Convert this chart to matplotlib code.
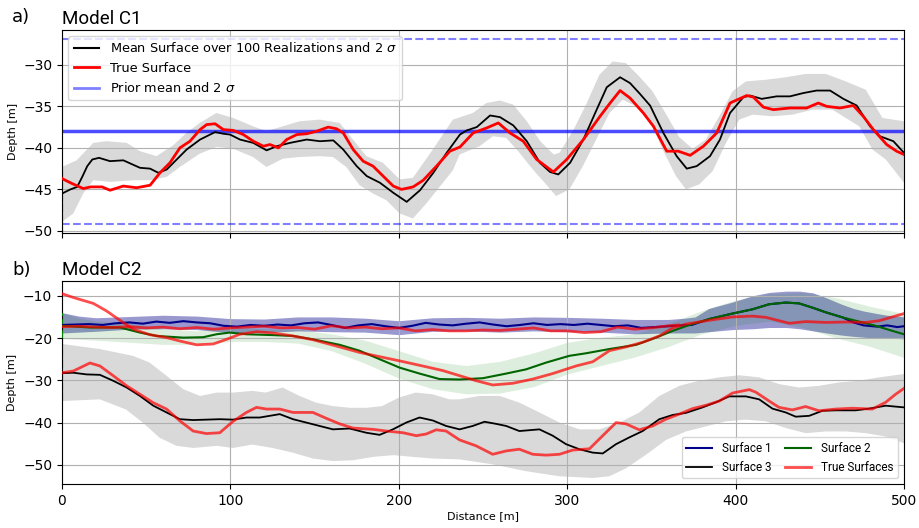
import numpy as np
import matplotlib
matplotlib.use("Agg")
import matplotlib.pyplot as plt
from matplotlib.lines import Line2D

NARROW = ["Roboto", "DejaVu Sans"]

# ---------------- Panel a) Model C1 ----------------
c1_mean_x = [0, 5, 9, 12, 15, 18, 22, 28.5, 36.4, 46.3, 52.3, 57.2, 62.2, 68.1, 74, 82, 90.9, 95.8,
             99.8, 105.7, 113.6, 121.5, 127.5, 135.4, 145.3, 153.2, 161.1, 167, 175, 181, 188.8,
             196.7, 204.7, 212.6, 220.5, 228.4, 236.3, 240.3, 246.3, 254.2, 260.1, 268, 276, 283.8,
             289.8, 294.7, 301.7, 309.6, 317.5, 323.5, 331.4, 337.3, 343.2, 349.2, 357.1, 365, 371,
             376.9, 384.8, 390.7, 396.7, 404.6, 408.6, 415.5, 424.4, 432.3, 440.2, 448.1, 456.1, 464,
             471.9, 479.8, 485.7, 493.7, 500]
c1_mean_y = [-45.5, -45.0, -44.7, -43.5, -42.2, -41.4, -41.2, -41.6, -41.5, -42.4, -42.5, -43.0, -42.6,
             -41.4, -40.2, -39.0, -38.1, -38.3, -38.4, -39.0, -39.4, -40.3, -39.8, -39.4, -39.0, -39.2,
             -39.1, -40.2, -42.2, -43.4, -44.2, -45.4, -46.5, -45.1, -43.0, -40.6, -38.4, -37.9, -37.5,
             -36.1, -36.3, -37.3, -39.2, -41.8, -42.9, -43.2, -41.8, -39.0, -35.4, -32.7, -31.5, -32.2,
             -33.5, -34.9, -38.2, -41.0, -42.5, -42.2, -41.0, -39.0, -35.8, -33.9, -33.7, -34.1, -33.8,
             -33.8, -33.4, -33.1, -33.1, -34.1, -34.9, -37.4, -38.6, -39.2, -40.6]

c1_true_x = [0, 6, 12.7, 17, 23.8, 28.5, 36.4, 44.3, 52.3, 58.2, 64.1, 70, 76, 82, 85.9, 90.9, 95.8,
             101.7, 107.7, 113.6, 119.6, 123.5, 128.5, 133.4, 139.4, 145.3, 151.2, 158.1, 163, 167,
             172.9, 178.8, 184.7, 190.7, 196.7, 201.6, 208.5, 214.5, 222.4, 230.3, 236.3, 244.2, 252.2,
             259.1, 266, 273.9, 281.9, 291.8, 299.7, 309.6, 319.5, 325.5, 331.4, 337.3, 345.2, 351.2,
             359.1, 366, 373, 380.9, 388.8, 396.7, 406.6, 410.6, 416.5, 422.4, 432.3, 442.2, 449.1,
             454, 462, 469.9, 475.8, 481.8, 489.7, 495.6, 500]
c1_true_y = [-43.7, -44.3, -44.9, -44.7, -44.7, -45.1, -44.6, -44.8, -44.5, -43.0, -41.8, -40.0, -39.2,
             -37.8, -37.2, -37.1, -37.8, -37.9, -38.4, -39.2, -39.8, -39.6, -40.0, -39.0, -38.4, -38.3,
             -38.0, -37.5, -37.7, -38.2, -40.2, -41.6, -42.2, -43.4, -44.6, -45.0, -44.7, -43.9, -42.2,
             -40.4, -39.9, -38.2, -37.6, -37.0, -38.2, -39.2, -41.4, -42.9, -41.4, -39.0, -36.2, -34.6,
             -33.1, -34.0, -35.8, -37.4, -40.4, -40.4, -40.9, -39.8, -38.2, -34.6, -33.7, -33.9, -35.1,
             -35.4, -35.2, -35.2, -34.6, -35.0, -35.2, -34.9, -36.2, -37.8, -39.6, -40.4, -40.8]

c1_band_up_x = [0, 8.7, 18.6, 26.5, 38.4, 46.3, 56.1, 66, 73.9, 81.8, 91.7, 101.6, 113.4, 121.4, 131.2,
                141.1, 153, 164.9, 172.8, 180.7, 190.6, 200.5, 208.4, 220.2, 232.1, 244, 252, 260, 268,
                276, 284, 292, 295.4, 303.3, 311.2, 319.1, 327, 334.9, 342.8, 350.7, 358.6, 366.5,
                374.4, 382.3, 390.3, 398.2, 406.1, 418, 429.8, 441.7, 453.6, 465.4, 477.3, 487.2, 500]
c1_band_up_y = [-42.3, -41.5, -39.4, -39.2, -39.4, -40.4, -41.0, -39.7, -38.2, -37.0, -35.8, -36.4,
                -37.4, -38.0, -37.4, -36.8, -36.6, -37.0, -39.0, -41.0, -41.8, -43.8, -43.6, -40.2,
                -36.6, -35.8, -34.6, -34.3, -34.8, -36.8, -39.2, -40.8, -40.6, -38.0, -34.8, -31.2,
                -29.6, -29.8, -31.4, -33.2, -35.9, -38.7, -40.1, -39.0, -36.2, -33.2, -32.0, -31.8,
                -31.5, -31.1, -31.1, -32.0, -33.0, -36.4, -36.8]
c1_band_lo_x = [0, 6.7, 12.6, 18.6, 28.5, 42.3, 52.2, 62.1, 70, 81.8, 91.7, 101.6, 113.4, 121.4, 131.2,
                141.1, 153, 160.9, 168.8, 176.7, 184.7, 192.6, 200.5, 208.4, 216.3, 224.2, 232.1,
                236.1, 248, 255.9, 263.8, 271.7, 279.6, 287.5, 293.4, 301.3, 309.3, 317.2, 325.1,
                333, 340.9, 348.8, 356.7, 364.6, 370.5, 378.4, 386.4, 394.3, 402.2, 410.1, 421.9,
                433.8, 445.7, 457.5, 465.4, 473.4, 481.3, 489.2, 500]
c1_band_lo_y = [-48.9, -47.9, -45.5, -43.9, -44.1, -43.9, -43.9, -43.5, -42.3, -40.7, -39.9, -40.1,
                -41.1, -42.3, -41.3, -41.1, -41.0, -41.1, -42.3, -44.5, -45.5, -46.3, -47.9, -48.5,
                -46.7, -44.7, -42.7, -40.8, -39.8, -38.6, -38.8, -40.6, -42.6, -44.4, -45.8, -45.0,
                -42.2, -39.0, -35.8, -34.2, -35.0, -36.6, -40.2, -43.4, -45.0, -44.4, -42.8, -39.4,
                -36.6, -36.0, -36.2, -36.0, -35.4, -35.4, -36.4, -37.4, -40.2, -41.4, -44.2]

prior_mean = -38.0
prior_2sigma = 11.15

# ---------------- Panel b) Model C2 ----------------
s1_x = [0, 8, 16, 24, 32, 40, 48, 56, 64, 72, 80, 88, 96, 104, 112, 120, 128, 136, 144, 152, 160,
        168, 176, 184, 192, 200, 208, 216, 224, 232, 240, 248, 256, 264, 272, 280, 288, 296, 304,
        312, 320, 328, 336, 344, 352, 360, 368, 374, 384.3, 398.2, 410, 419.9, 429.8, 437.7,
        445.6, 453.5, 463.4, 470, 476, 484, 490, 496, 500]
s1_y = [-16.9, -16.8, -16.7, -16.9, -16.5, -16.3, -16.6, -16.1, -16.4, -16.0, -16.3, -16.5, -17.1,
        -17.3, -16.9, -17.1, -16.8, -17.0, -16.5, -16.3, -16.9, -17.6, -17.0, -16.7, -17.2, -17.6,
        -17.1, -16.4, -16.8, -17.0, -16.6, -16.3, -16.8, -17.2, -16.9, -16.5, -16.9, -16.7, -16.9,
        -16.6, -16.9, -17.2, -17.0, -17.6, -17.4, -17.2, -17.0, -16.9, -15.5, -14.2, -13.2, -12.0,
        -11.6, -11.8, -12.8, -13.9, -15.1, -16.3, -17.0, -17.3, -17.0, -17.4, -17.2]

s2_x = [0, 16.6, 34.4, 46.3, 56.2, 72, 83.8, 91.8, 99.6, 109.5, 125.3, 137.2, 149, 164.9, 176.7,
        188.6, 200.5, 212.3, 224.2, 236.1, 249.9, 263.8, 275.6, 287.5, 301.3, 311.2, 325, 340.9,
        352.7, 362.6, 372.5, 384.3, 398.2, 410, 419.9, 429.8, 437.7, 445.6, 453.5, 463.4, 473.3,
        483.2, 493.1, 500]
s2_y = [-17.1, -17.5, -17.5, -18.7, -19.5, -19.9, -19.8, -19.1, -18.7, -19.1, -19.3, -19.5, -20.3,
        -21.6, -23.0, -25.0, -27.0, -28.4, -29.7, -29.8, -29.5, -28.4, -27.4, -25.8, -24.2, -23.6,
        -22.6, -21.6, -19.9, -18.3, -16.9, -15.5, -14.2, -13.2, -12.0, -11.6, -11.8, -12.8, -13.9,
        -15.1, -16.1, -17.1, -18.3, -19.1]

s3_x = [0, 6.7, 14.6, 22.5, 30.4, 38.4, 46.3, 54.2, 62.1, 70, 77.9, 85.8, 93.7, 101.6, 109.5, 117.4,
        129.3, 137.2, 145.1, 153, 160.9, 170.8, 180.7, 188.6, 196.5, 204.4, 212.3, 220.2, 228.1,
        236.1, 243.9, 250.9, 257.8, 263.8, 271.6, 283.5, 291.4, 299.3, 307.2, 315.1, 321.1, 329,
        336.9, 344.8, 354.7, 362.6, 370.5, 380.4, 388.3, 396.2, 406.1, 414, 421.9, 429.8, 435.7,
        443.7, 451.6, 459.5, 471.3, 479.2, 489.1, 500]
s3_y = [-28.3, -28.2, -28.6, -28.7, -30.1, -31.7, -33.7, -36.0, -37.6, -39.2, -39.4, -39.3, -39.2,
        -39.3, -38.8, -38.8, -38.0, -39.2, -40.0, -40.8, -41.6, -41.4, -42.4, -42.9, -41.6, -40.0,
        -38.8, -39.5, -40.8, -41.6, -40.8, -39.8, -40.3, -40.8, -42.0, -41.6, -43.1, -45.1, -46.3,
        -47.1, -47.3, -45.1, -43.5, -42.0, -39.2, -38.2, -37.7, -36.4, -35.2, -33.8, -33.8, -34.5,
        -36.7, -37.6, -38.6, -38.4, -37.2, -37.1, -37.1, -36.7, -36.0, -36.4]

t1_x = [0, 10, 20, 30, 40, 50, 60, 70, 80, 90, 100, 110, 120, 130, 140, 150, 160, 170, 180, 190,
        200, 210, 220, 230, 240, 250, 260, 270, 280, 290, 300, 310, 320, 330, 340, 350, 360, 366]
t1_y = [-17.3, -17.2, -17.4, -17.5, -17.3, -17.6, -17.4, -17.8, -17.5, -17.9, -17.6, -17.4, -17.2,
        -17.6, -17.5, -17.9, -17.1, -17.6, -17.4, -17.8, -17.6, -18.3, -18.0, -18.3, -18.3, -18.1,
        -18.2, -17.9, -17.6, -18.3, -18.3, -18.7, -18.5, -17.4, -17.9, -17.6, -17.1, -16.9]

t2_x = [0, 6.7, 18.6, 26.5, 34.4, 42.3, 52.2, 62.1, 70, 79.9, 89.8, 97.7, 105.6, 115.5, 125.3, 137.2,
        149, 164.9, 176.7, 188.6, 200.5, 216.3, 226.2, 236.1, 246, 255.8, 267.7, 279.6, 291.4, 305.3,
        315.2, 325, 334.9, 344.8, 354.7, 362.6, 370.5, 384.3, 398.2, 410, 418, 431.8, 441.7, 453.5,
        465.4, 477.3, 485.2, 493.1, 500]
t2_y = [-9.5, -10.4, -11.8, -13.6, -15.8, -17.9, -19.2, -19.9, -20.7, -21.6, -21.4, -20.3, -19.1,
        -18.5, -18.8, -19.5, -20.4, -22.1, -23.4, -24.4, -25.4, -26.8, -27.7, -28.9, -30.1, -31.1,
        -30.7, -29.7, -28.4, -26.6, -25.6, -23.0, -22.1, -21.0, -19.5, -17.6, -16.7, -15.8, -15.0,
        -14.8, -15.1, -16.5, -16.1, -16.3, -16.2, -16.3, -15.9, -15.0, -14.2]

t3_x = [0, 6.7, 16.6, 22.5, 30.4, 38.4, 46.3, 54.2, 62.1, 70, 77.9, 85.8, 93.7, 101.6, 109.5, 115.5,
        121.4, 129.3, 137.2, 149, 157, 164.9, 172.8, 184.7, 192.6, 202.5, 210.4, 216.3, 222.2, 228.1,
        236.1, 245.9, 255.8, 263.8, 271.6, 279.6, 287.5, 295.4, 303.3, 313.2, 321.1, 329, 334.9,
        342.8, 350.7, 358.6, 366.5, 374.4, 382.4, 390.3, 398.2, 408.1, 412, 419.9, 425.8, 433.7,
        441.6, 449.5, 459.5, 469.3, 481.2, 489.1, 495, 500]
t3_y = [-28.2, -27.8, -25.9, -26.6, -28.9, -31.3, -33.3, -35.3, -36.8, -39.6, -42.0, -42.6, -42.4,
        -39.7, -37.6, -36.4, -36.8, -36.8, -37.6, -37.6, -39.0, -40.3, -41.3, -41.6, -42.0, -42.4,
        -43.1, -42.7, -41.7, -42.0, -44.1, -45.5, -47.5, -46.7, -46.3, -47.5, -47.7, -47.5, -46.5,
        -46.2, -43.1, -40.0, -40.3, -41.7, -40.8, -39.2, -38.0, -36.7, -35.9, -34.9, -33.0, -32.2,
        -32.8, -34.9, -36.4, -37.0, -36.2, -37.2, -36.8, -36.6, -36.8, -35.2, -33.3, -31.9]

s1_band_x = [0, 10, 20, 40, 60, 80, 100, 120, 140, 160, 180, 200, 220, 240, 260, 280, 300, 320, 340,
             360, 370, 376, 384, 398, 410, 420, 430, 438, 446, 454, 463, 470, 476, 484, 490, 496, 500]
s1_band_up = [-14.0, -14.8, -15.2, -14.9, -14.6, -14.8, -15.4, -15.5, -15.0, -15.0, -15.3, -15.9,
              -15.2, -15.1, -15.3, -15.0, -15.1, -15.3, -15.6, -15.6, -15.3, -15.0, -13.0, -11.5,
              -10.0, -9.2, -8.9, -8.9, -9.3, -10.5, -12.0, -13.0, -13.6, -14.2, -14.6, -14.8, -15.0]
s1_band_lo = [-18.8, -18.6, -18.4, -17.9, -17.8, -18.0, -18.7, -18.7, -18.3, -18.5, -18.6, -19.2,
              -18.4, -18.3, -18.6, -18.3, -18.5, -18.6, -19.0, -18.8, -18.8, -18.8, -18.5, -18.0,
              -17.8, -17.5, -17.5, -17.8, -18.3, -18.8, -19.3, -19.6, -19.8, -20.0, -20.0, -20.1, -20.2]

s2_band_x = [0, 10, 20, 40, 60, 80, 100, 120, 140, 160, 180, 200, 220, 240, 260, 280, 300, 320, 340,
             360, 380, 400, 420, 440, 460, 480, 500]
s2_band_up = [-14.0, -15.2, -16.0, -16.5, -17.8, -18.3, -17.5, -17.8, -18.0, -19.0, -20.5, -23.0,
              -25.5, -26.5, -25.5, -23.5, -21.0, -19.8, -19.0, -16.5, -13.5, -11.0, -9.5, -9.2,
              -10.5, -12.5, -14.2]
s2_band_lo = [-20.1, -20.3, -20.5, -21.0, -21.5, -21.5, -20.8, -20.8, -21.2, -23.0, -26.0, -29.5,
              -32.0, -33.2, -33.0, -31.5, -28.5, -26.5, -24.5, -22.0, -19.0, -17.0, -16.0, -17.5,
              -20.0, -22.0, -24.6]

s3_band_up_x = [0, 22.5, 42, 52, 62, 72, 82, 92, 101.6, 113, 121, 131, 141, 151, 161, 171, 181, 190,
                200, 210, 220, 230, 236, 248, 260, 271.7, 283.5, 295.4, 307.3, 319.1, 331, 342.9,
                354.7, 366.6, 378.4, 390.3, 402.2, 414, 425.9, 437.8, 449.6, 461.5, 473.3, 485.2, 500]
s3_band_up_y = [-21.4, -22.6, -24.2, -25.8, -28.9, -32.1, -33.7, -32.9, -32.9, -32.5, -32.9, -31.7,
                -33.7, -35.3, -36.1, -36.5, -36.5, -36.1, -34.1, -32.9, -33.3, -34.5, -34.5, -33.7,
                -33.7, -35.3, -37.6, -40.0, -41.6, -41.6, -40.0, -37.6, -33.7, -31.3, -30.1, -29.3,
                -28.8, -29.3, -30.9, -31.7, -31.3, -30.5, -30.1, -29.3, -28.5]
s3_band_lo_x = [0, 22.5, 38, 48, 58, 68, 78, 92, 101.6, 113, 125, 137, 149, 161, 173, 185, 197, 208,
                220, 236, 256, 275.6, 295.4, 315.2, 325, 335, 346.8, 358.7, 370.5, 382.4, 394.3,
                406.1, 418, 429.9, 441.7, 453.6, 465.5, 477.3, 489.2, 500]
s3_band_lo_y = [-34.9, -34.5, -36.9, -40.0, -43.6, -45.5, -46.0, -45.5, -46.0, -45.2, -46.0, -47.1,
                -48.5, -49.1, -48.9, -48.1, -47.7, -48.1, -48.5, -48.7, -49.9, -51.5, -52.7, -53.1,
                -52.7, -50.8, -47.6, -44.1, -42.1, -40.9, -39.7, -39.3, -39.7, -41.3, -42.5, -42.1,
                -42.1, -42.5, -43.3, -44.9]

x_ticks = [0, 100, 200, 300, 400, 500]

# ---------------- Figure ----------------
fig = plt.figure(figsize=(9.2, 5.28), dpi=100)
W, H = 920, 528
ax1 = fig.add_axes([62 / W, 1 - 233 / H, (904 - 62) / W, (233 - 29.5) / H])
ax2 = fig.add_axes([62 / W, 1 - 484.3 / H, (904 - 62) / W, (484.3 - 281) / H])

band_gray = "#d9d9d9"

# Panel a
ax1.fill(np.concatenate([c1_band_up_x, c1_band_lo_x[::-1]]),
         np.concatenate([c1_band_up_y, c1_band_lo_y[::-1]]),
         color=band_gray, lw=0, zorder=1)
ax1.vlines(0, c1_band_lo_y[0] - 1.5, c1_band_up_y[0], colors="black", linestyles="--", lw=1.5, zorder=3)
ax1.axhline(prior_mean, color="blue", alpha=0.7, lw=2.5, zorder=2)
ax1.axhline(prior_mean + prior_2sigma, color="blue", alpha=0.5, lw=1.5, ls="--", zorder=2)
ax1.axhline(prior_mean - prior_2sigma, color="blue", alpha=0.5, lw=1.5, ls="--", zorder=2)
ax1.plot(c1_mean_x, c1_mean_y, color="black", lw=1.3, zorder=4)
ax1.plot(c1_true_x, c1_true_y, color="red", lw=2.0, zorder=5)
ax1.set_xlim(0, 500)
ax1.set_ylim(-50.25, -25.75)
ax1.set_yticks([-30, -35, -40, -45, -50])
ax1.set_xticks(x_ticks)
ax1.tick_params(axis="x", labelbottom=False)
ax1.grid(True)
ax1.set_ylabel("Depth [m]", fontsize=8)
ax1.set_title("Model C1", loc="left", fontsize=13.5, family=NARROW, pad=4)
handles1 = [Line2D([], [], color="black", lw=1.5),
            Line2D([], [], color="red", lw=2),
            Line2D([], [], color="blue", alpha=0.5, lw=2)]
ax1.legend(handles1, ["Mean Surface over 100 Realizations and 2 $\\sigma$", "True Surface",
                      "Prior mean and 2 $\\sigma$"], loc="upper left", fontsize=9.3)

# Panel b
ax2.fill(np.concatenate([s3_band_up_x, s3_band_lo_x[::-1]]),
         np.concatenate([s3_band_up_y, s3_band_lo_y[::-1]]),
         color=band_gray, lw=0, zorder=1)
ax2.fill_between(s1_band_x, s1_band_lo, s1_band_up, color="darkblue", alpha=0.4, lw=0, zorder=1)
ax2.fill_between(s2_band_x, s2_band_lo, s2_band_up, color="green", alpha=0.13, lw=0, zorder=1)
ax2.vlines(0, s3_band_lo_y[0], s2_band_lo[0], colors="black", linestyles="--", lw=1.5, zorder=3)
ax2.vlines(0, s2_band_lo[0], s2_band_up[0], colors="green", linestyles="--", lw=1.5, zorder=3)
l1, = ax2.plot(s1_x, s1_y, color="darkblue", lw=1.5, zorder=4)
l2, = ax2.plot(s2_x, s2_y, color="darkgreen", lw=1.5, zorder=4)
l3, = ax2.plot(s3_x, s3_y, color="black", lw=1.3, zorder=4)
lt, = ax2.plot(t1_x, t1_y, color="red", alpha=0.7, lw=2, zorder=5)
ax2.plot(t2_x, t2_y, color="red", alpha=0.7, lw=2, zorder=5)
ax2.plot(t3_x, t3_y, color="red", alpha=0.7, lw=2, zorder=5)
ax2.set_xlim(0, 500)
ax2.set_ylim(-54.6, -6.5)
ax2.set_yticks([-10, -20, -30, -40, -50])
ax2.set_xticks(x_ticks)
ax2.grid(True)
ax2.set_ylabel("Depth [m]", fontsize=8)
ax2.set_xlabel("Distance [m]", fontsize=8, labelpad=2)
ax2.set_title("Model C2", loc="left", fontsize=13.5, family=NARROW, pad=4)
ax2.legend([l1, l3, l2, lt], ["Surface 1", "Surface 3", "Surface 2", "True Surfaces"],
           loc="lower right", ncol=2, prop={"family": NARROW, "size": 8.5},
           handlelength=2.2, columnspacing=1.2)

fig.text(12 / W, 1 - 22 / H, "a)", fontsize=13, ha="left", va="baseline")
fig.text(12 / W, 1 - 275 / H, "b)", fontsize=13, ha="left", va="baseline")

fig.savefig("out.png", dpi=100)
